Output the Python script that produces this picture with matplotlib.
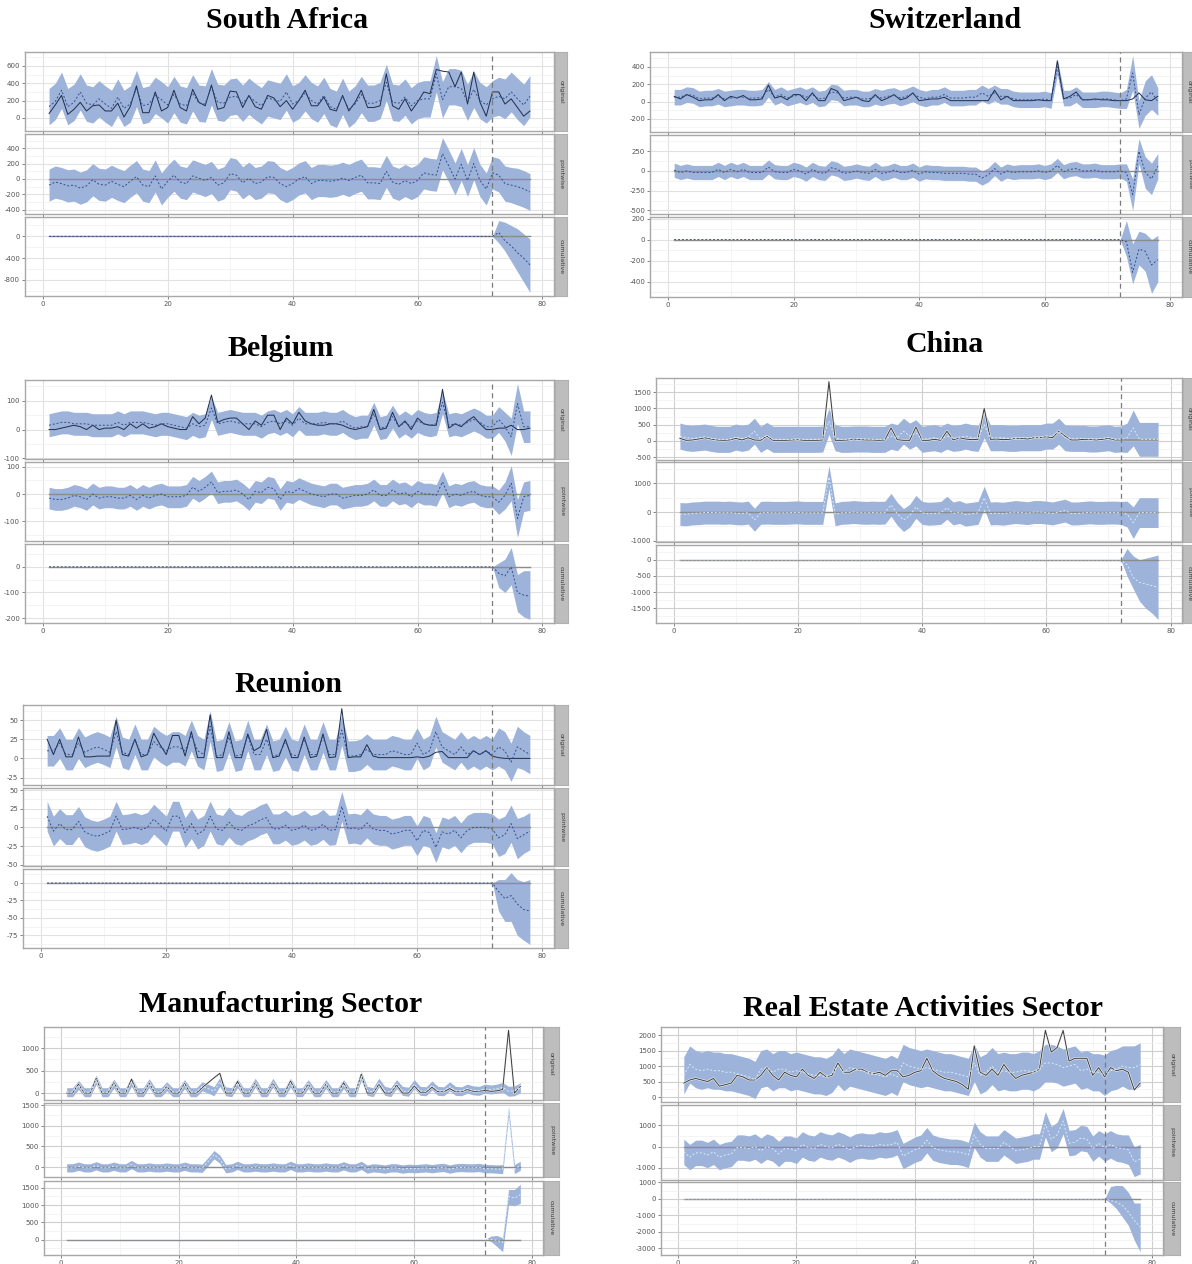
import matplotlib
matplotlib.use("Agg")
import matplotlib.pyplot as plt
from matplotlib.ticker import MultipleLocator
import matplotlib.patheffects as pe
import numpy as np

plt.rcParams['axes.unicode_minus'] = False

x = np.arange(1, 79)
cut = 72  # first post-period point

titles = ["South Africa", "Switzerland", "Belgium", "China", "Reunion",
          "Manufacturing Sector", "Real Estate Activities Sector"]

# South Africa
sa_obs = [50, 150, 260, 40, 100, 180, 80, 140, 150, 80,
          80, 170, 10, 130, 370, 60, 60, 300, 80, 120,
          320, 120, 80, 330, 180, 140, 380, 100, 120, 310,
          300, 120, 260, 130, 100, 260, 230, 130, 200, 100,
          200, 320, 140, 140, 240, 100, 80, 260, 80, 180,
          320, 120, 120, 140, 510, 140, 100, 220, 80, 180,
          300, 280, 560, 540, 530, 360, 530, 160, 530, 180,
          20, 300, 300, 160, 220, 120, 20, 80]
sa_pred = [130, 190, 320, 130, 180, 300, 170, 150, 220, 160,
           110, 240, 110, 160, 340, 140, 160, 260, 210, 150,
           270, 160, 140, 290, 170, 160, 360, 180, 170, 240,
           250, 170, 250, 190, 140, 230, 210, 190, 300, 160,
           200, 290, 200, 160, 260, 130, 100, 250, 100, 160,
           270, 170, 170, 200, 410, 180, 170, 240, 140, 200,
           220, 220, 510, 210, 360, 360, 340, 180, 330, 200,
           150, 220, 250, 220, 300, 220, 150, 250]
sa_hw = 210
sa_hw_post = [210, 220, 230, 230, 240, 240, 240]
sa_cum = [0, 70, -80, -175, -300, -400, -525]
sa_cum_lo = [0, -120, -270, -460, -650, -840, -1030]
sa_cum_hi = [0, 290, 260, 200, 140, 45, -50]

# Switzerland
sw_obs = [60, 30, 80, 50, 10, 20, 20, 80, 10, 60,
          40, 70, 20, 20, 30, 190, 40, 60, 20, 80,
          80, 10, 100, 10, 10, 150, 120, 10, 30, 50,
          10, 0, 80, 10, 40, 80, 20, 40, 100, 10,
          20, 30, 30, 50, 10, 10, 10, 10, 10, 10,
          10, 130, 20, 60, 10, 10, 10, 10, 20, 10,
          10, 470, 30, 60, 110, 20, 20, 30, 20, 20,
          10, 10, 10, 30, 100, 20, 10, 60]
sw_pred = [50, 50, 80, 70, 30, 40, 40, 60, 30, 40,
           50, 50, 40, 40, 50, 140, 50, 80, 40, 60,
           80, 50, 80, 30, 40, 110, 100, 40, 50, 50,
           30, 30, 60, 40, 60, 70, 40, 60, 90, 50,
           30, 50, 50, 80, 40, 40, 40, 50, 50, 100,
           60, 100, 60, 60, 30, 20, 20, 20, 20, 30,
           10, 400, 40, 40, 80, 20, 20, 20, 30, 30,
           20, 10, 30, 330, -150, 40, 110, 0]
sw_hw = 90
sw_hw_post = [90, 110, 200, 160, 200, 200, 160]
sw_cum = [0, -20, -310, -90, -110, -240, -190]
sw_cum_lo = [0, -160, -420, -240, -300, -510, -400]
sw_cum_hi = [0, 180, -40, 80, 60, 0, 40]

# Belgium
be_obs = [0, 0, 5, 10, 15, 10, 0, 15, 0, 5,
          5, 10, 0, 20, 5, 20, 5, 10, 20, 10,
          5, 0, 0, 45, 20, 40, 120, 25, 35, 40,
          40, 20, 0, 30, 15, 50, 50, 0, 40, 20,
          60, 30, 20, 15, 15, 20, 20, 15, 5, 0,
          5, 10, 70, 0, 5, 60, 10, 30, 0, 40,
          20, 15, 15, 140, 5, 20, 10, 30, 45, 20,
          0, 0, 5, 5, 15, 0, 0, 5]
be_pred = [15, 20, 25, 25, 20, 20, 20, 15, 15, 15,
           15, 25, 15, 25, 25, 25, 20, 15, 20, 20,
           15, 10, 5, 20, 10, 15, 75, 20, 25, 30,
           25, 20, 20, 20, 10, 25, 30, 20, 30, 15,
           40, 20, 20, 20, 25, 20, 20, 30, 15, 5,
           10, 10, 55, 5, 10, 45, 10, 25, 10, 30,
           20, 15, 20, 95, 15, 20, 15, 25, 35, 25,
           10, 10, 35, 10, -25, 90, 10, 10]
be_hw = 40
be_hw_post = [40, 45, 50, 65, 70, 55, 55]
be_cum = [0, -25, -35, 0, -100, -110, -115]
be_cum_lo = [0, -80, -100, -70, -175, -195, -205]
be_cum_hi = [0, 15, 30, 75, -30, -15, -15]

# China
cn_obs = [80, 20, 30, 60, 100, 60, 30, 20, 30, 80,
          30, 100, 30, 20, 150, 20, 20, 20, 30, 40,
          20, 20, 20, 30, 1820, 20, 20, 30, 60, 40,
          30, 30, 20, 30, 400, 40, 20, 20, 430, 20,
          20, 50, 20, 300, 30, 100, 60, 40, 50, 1000,
          50, 60, 40, 50, 80, 80, 60, 100, 100, 130,
          100, 300, 150, 30, 30, 50, 50, 30, 50, 80,
          30, 30, 30, 30, 30, 30, 30, 30]
cn_pred = [150, 100, 80, 100, 120, 80, 50, 50, 50, 120,
           80, 120, 300, 50, 170, 50, 50, 50, 50, 50,
           50, 50, 50, 60, 600, 100, 50, 50, 60, 60,
           60, 50, 50, 50, 150, 100, 300, 150, 250, 50,
           80, 100, 50, 150, 80, 100, 150, 100, 80, 500,
           100, 100, 100, 80, 80, 100, 100, 100, 100, 150,
           150, 300, 100, 80, 80, 80, 60, 60, 80, 100,
           50, 60, 100, 400, 50, 50, 50, 50]
cn_hw = 400
cn_hw_post = [400, 450, 550, 520, 520, 520, 520]
cn_cum = [0, -150, -550, -700, -750, -800, -850]
cn_cum_lo = [0, -500, -900, -1280, -1500, -1650, -1850]
cn_cum_hi = [0, 350, 120, 0, 50, 100, 150]

# Reunion
re_obs = [25, 5, 25, 2, 2, 28, 2, 2, 3, 3,
          3, 50, 5, 3, 25, 2, 5, 33, 18, 5,
          30, 30, 3, 35, 1, 1, 57, 1, 1, 35,
          1, 1, 32, 10, 15, 38, 1, 3, 25, 1,
          1, 28, 1, 3, 32, 1, 2, 65, 1, 2,
          2, 18, 3, 1, 1, 1, 1, 1, 1, 2,
          1, 3, 8, 9, 1, 1, 1, 1, 10, 5,
          10, 3, 1, 0, 0, 0, 0, 0]
re_pred = [10, 10, 20, 5, 5, 20, 8, 12, 15, 12,
           8, 35, 8, 5, 25, 5, 5, 22, 15, 10,
           15, 15, 10, 30, 10, 5, 42, 3, 5, 28,
           3, 5, 30, 5, 5, 25, 3, 5, 22, 5,
           3, 25, 5, 5, 28, 5, 5, 37, 3, 3,
           5, 12, 5, 5, 5, 10, 8, 5, 5, 20,
           5, 10, 35, 15, 10, 5, 15, 5, 10, 5,
           10, 5, 15, 10, -5, 15, 10, 5]
re_hw = 20
re_hw_post = [20, 25, 25, 25, 27, 25, 25]
re_cum = [0, -12, -22, -18, -30, -38, -40]
re_cum_lo = [0, -40, -55, -55, -75, -82, -88]
re_cum_hi = [0, 5, 5, 15, 5, 2, 5]

# Manufacturing Sector
mf_obs = [0, 0, 200, 0, 0, 330, 0, 0, 230, 0,
          0, 310, 0, 0, 220, 0, 0, 150, 0, 0,
          220, 0, 0, 120, 230, 340, 440, 0, 0, 260,
          0, 0, 230, 0, 0, 230, 0, 0, 270, 0,
          0, 200, 0, 0, 200, 0, 0, 230, 0, 0,
          420, 0, 0, 200, 0, 0, 180, 0, 0, 160,
          20, 20, 130, 30, 30, 100, 30, 30, 80, 40,
          40, 60, 40, 50, 80, 1400, 0, 150]
mf_pred = [20, 20, 180, 20, 20, 300, 20, 20, 210, 20,
           20, 250, 20, 20, 220, 20, 20, 150, 20, 20,
           200, 20, 20, 150, 100, 40, 250, 40, 20, 220,
           20, 20, 230, 20, 20, 230, 20, 20, 230, 20,
           20, 200, 20, 20, 200, 20, 20, 200, 20, 20,
           380, 50, 20, 230, 50, 20, 200, 50, 30, 200,
           50, 40, 170, 50, 40, 150, 50, 40, 100, 60,
           50, 100, 80, 100, 130, 40, 50, 120]
mf_hw = 100
mf_hw_post = [100, 100, 100, 110, 110, 110, 110]
mf_cum = [0, 0, -20, -80, 1250, 1200, 1300]
mf_cum_lo = [0, -50, -200, -350, 1000, 980, 1050]
mf_cum_hi = [0, 100, 120, 50, 1450, 1450, 1600]

# Real Estate Activities Sector
rs_obs = [450, 550, 600, 550, 500, 600, 350, 400, 450, 700,
          650, 550, 550, 700, 950, 700, 550, 800, 700, 650,
          900, 700, 600, 800, 650, 700, 1100, 800, 800, 900,
          900, 800, 750, 800, 700, 850, 850, 650, 700, 800,
          850, 1250, 850, 700, 600, 550, 500, 400, 250, 1650,
          800, 700, 900, 700, 1050, 800, 600, 700, 750, 800,
          900, 2150, 1450, 1600, 2150, 1160, 1250, 1250, 1250, 700,
          950, 650, 950, 850, 900, 800, 230, 450]
rs_pred = [700, 1050, 900, 850, 900, 850, 850, 800, 800, 750,
           700, 650, 550, 900, 950, 800, 900, 900, 800, 850,
           800, 750, 700, 700, 650, 750, 1000, 800, 950, 900,
           850, 800, 750, 700, 650, 750, 650, 1100, 1000, 950,
           900, 950, 900, 850, 800, 800, 750, 700, 650, 1100,
           700, 800, 1000, 800, 850, 800, 800, 850, 850, 800,
           900, 1100, 1100, 1050, 950, 1000, 1050, 850, 900, 800,
           800, 700, 850, 900, 1000, 950, 950, 1050]
rs_hw = 600
rs_hw_post = [650, 650, 650, 650, 700, 700, 700]
rs_cum = [0, -100, -200, -400, -800, -1300, -1700]
rs_cum_lo = [0, -250, -600, -1100, -1600, -2500, -3200]
rs_cum_hi = [0, 750, 820, 800, 400, -250, -250]

strip_labels = ["original", "pointwise", "cumulative"]

W, H = 1192, 1264
fig = plt.figure(figsize=(W / 100, H / 100), dpi=100)
fig.patch.set_facecolor("white")

BAND = "#9db3da"


def add_ax(x0, y0, x1, y1):
    return fig.add_axes([x0 / W, 1 - y1 / H, (x1 - x0) / W, (y1 - y0) / H])


def draw_panel(title, tpos, obs, pred, hw_pre, hw_post, cum, cum_lo, cum_hi,
               steps, box, light):
    obs = np.array(obs, float)
    pred = np.array(pred, float)
    hw = np.array([hw_pre] * (cut - 1) + list(hw_post), float)
    lo, hi = pred - hw, pred + hw
    pw, pw_lo, pw_hi = obs - pred, obs - hi, obs - lo
    c = np.zeros(len(x)); c_lo = np.zeros(len(x)); c_hi = np.zeros(len(x))
    c[cut - 1:] = cum; c_lo[cut - 1:] = cum_lo; c_hi[cut - 1:] = cum_hi

    if light:
        obs_col, pred_col = "#3a3a3a", "#d6eefa"
        grid_major = "#cfcfcf"
    else:
        obs_col, pred_col = "#1f2d4a", "#2f4f8f"
        grid_major = "#e2e2e2"

    x0, x1, sx1, rows = box
    series = [(lo, hi, obs, pred, False),
              (pw_lo, pw_hi, None, pw, True),
              (c_lo, c_hi, None, c, True)]
    for k, ((top, bot), (blo, bhi, solid, dashed, zero)) in enumerate(zip(rows, series)):
        ax = add_ax(x0, top, x1, bot)
        ax.set_axisbelow(True)
        ax.fill_between(x, blo, bhi, color=BAND, lw=0, zorder=2)
        if zero:
            ax.plot([x[0], x[-1]], [0, 0], color="#8c8c8c", lw=1.0, zorder=3)
        if solid is not None:
            ax.plot(x, solid, color=obs_col, lw=0.7, zorder=4,
                    path_effects=[pe.Stroke(linewidth=1.6, foreground="#f2f2f2"), pe.Normal()] if light else None)
        ax.plot(x, dashed, color=pred_col, lw=0.7, ls=(0, (2, 2)), zorder=5)
        ax.axvline(cut, color="#7a7a7a", lw=0.9, ls=(0, (4, 3)), zorder=6)

        vals = [blo, bhi, dashed] + ([solid] if solid is not None else []) + ([np.zeros(1)] if zero else [])
        ymin = min(np.min(v) for v in vals)
        ymax = max(np.max(v) for v in vals)
        r = ymax - ymin
        ax.set_ylim(ymin - 0.05 * r, ymax + 0.05 * r)
        ax.set_xlim(-2.85, 81.85)

        ax.xaxis.set_major_locator(MultipleLocator(20))
        ax.xaxis.set_minor_locator(MultipleLocator(10))
        ax.yaxis.set_major_locator(MultipleLocator(steps[k]))
        ax.yaxis.set_minor_locator(MultipleLocator(steps[k] / 2))
        ax.grid(which="major", color=grid_major, lw=0.8)
        ax.grid(which="minor", color="#f0f0f0", lw=0.5)
        ax.tick_params(which="both", labelsize=5, colors="#555555", length=2,
                       width=0.5, pad=1.5)
        ax.tick_params(which="minor", length=0)
        if k < 2:
            ax.tick_params(axis="x", labelbottom=False)
        for s in ax.spines.values():
            s.set_color("#a8a8a8")
            s.set_linewidth(1.0)

        sax = add_ax(x1 + 1, top, sx1, bot)
        sax.set_facecolor("#bdbdbd")
        sax.set_xticks([]); sax.set_yticks([])
        for s in sax.spines.values():
            s.set_color("#b0b0b0")
        sax.text(0.5, 0.5, strip_labels[k], rotation=270, ha="center",
                 va="center", fontsize=4.5, color="#3a3a3a",
                 transform=sax.transAxes)

    fig.text(tpos[0] / W, 1 - tpos[1] / H, title, ha="center", va="center",
             fontsize=21.5, fontweight="bold", family="Liberation Serif")


panels = [
    (titles[0], (287, 20), sa_obs, sa_pred, sa_hw, sa_hw_post, sa_cum, sa_cum_lo, sa_cum_hi,
     (200, 200, 400), (25, 554, 567, [(52, 131), (134, 214), (217, 296)]), False),
    (titles[1], (945, 20), sw_obs, sw_pred, sw_hw, sw_hw_post, sw_cum, sw_cum_lo, sw_cum_hi,
     (200, 250, 200), (650, 1182, 1196, [(52, 132), (135, 214), (217, 297)]), False),
    (titles[2], (281, 348), be_obs, be_pred, be_hw, be_hw_post, be_cum, be_cum_lo, be_cum_hi,
     (100, 100, 100), (25, 554, 568, [(380, 459), (462, 541), (544, 623)]), False),
    (titles[3], (945, 345), cn_obs, cn_pred, cn_hw, cn_hw_post, cn_cum, cn_cum_lo, cn_cum_hi,
     (500, 1000, 500), (656, 1182, 1196, [(378, 460), (462, 542), (545, 623)]), True),
    (titles[4], (288, 685), re_obs, re_pred, re_hw, re_hw_post, re_cum, re_cum_lo, re_cum_hi,
     (25, 25, 25), (23, 554, 568, [(705, 785), (788, 866), (869, 948)]), False),
    (titles[5], (281, 1005), mf_obs, mf_pred, mf_hw, mf_hw_post, mf_cum, mf_cum_lo, mf_cum_hi,
     (500, 500, 500), (44, 543, 559, [(1027, 1100), (1103, 1177), (1181, 1255)]), True),
    (titles[6], (923, 1008), rs_obs, rs_pred, rs_hw, rs_hw_post, rs_cum, rs_cum_lo, rs_cum_hi,
     (500, 1000, 1000), (661, 1163, 1180, [(1027, 1102), (1105, 1180), (1182, 1255)]), True),
]

for p in panels:
    draw_panel(*p)

fig.savefig("out.png", dpi=100)
